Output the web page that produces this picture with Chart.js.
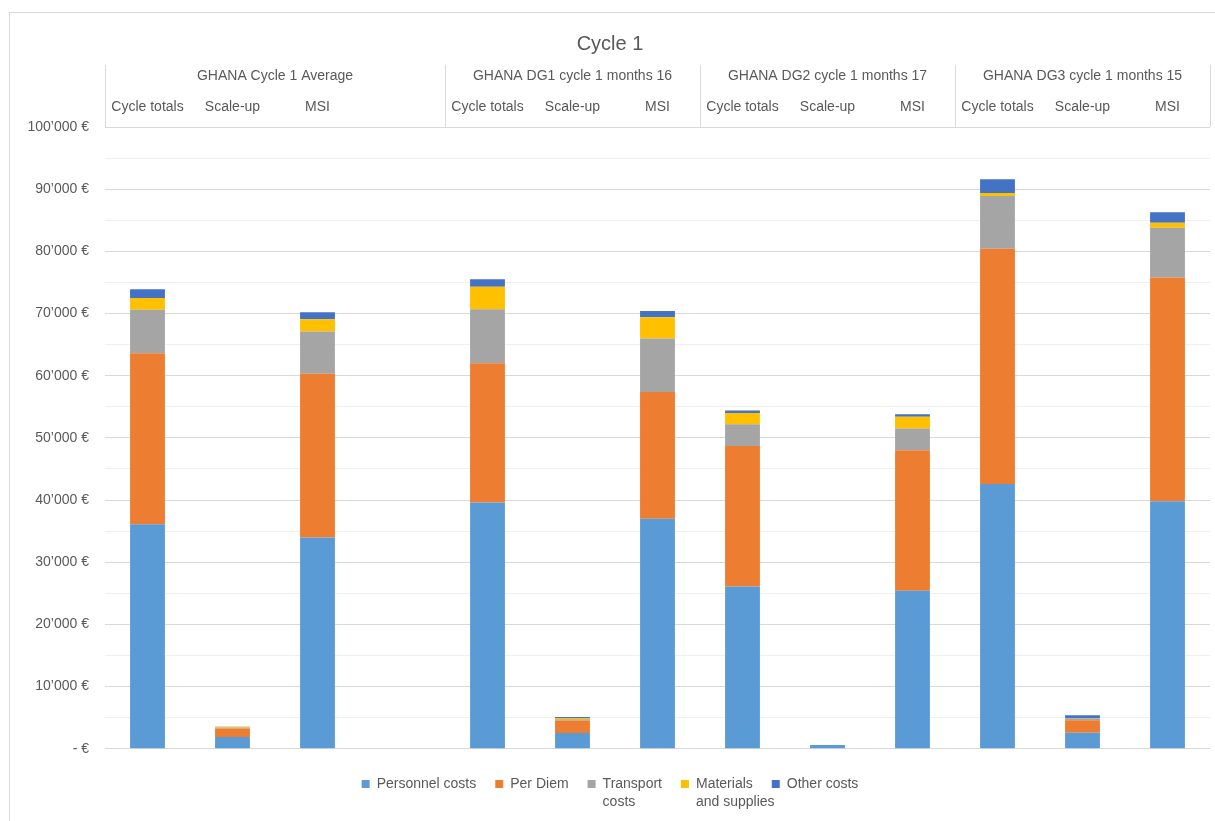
<!DOCTYPE html>
<html>
<head>
<meta charset="utf-8">
<script src="https://cdn.jsdelivr.net/npm/chart.js@4"></script>
<style>
  body { margin: 0; background: #fff; }
  #wrap { position: absolute; left: 9px; top: 12px; width: 1205px; height: 808px; border: 1px solid #d9d9d9; }
</style>
</head>
<body>
<div id="wrap"><canvas id="myChart"></canvas></div>
<script>
'use strict';

let categories = ['Cycle totals', 'Scale-up', 'MSI', '', 'Cycle totals', 'Scale-up', 'MSI', 'Cycle totals', 'Scale-up', 'MSI', 'Cycle totals', 'Scale-up', 'MSI'];
let groupNames = ['GHANA Cycle 1 Average', 'GHANA DG1 cycle 1 months 16', 'GHANA DG2 cycle 1 months 17', 'GHANA DG3 cycle 1 months 15'];
let groupSizes = [4, 3, 3, 3];

let personnel = [36100, 1900, 34000, null, 39600, 2550, 37000, 26100, 600, 25400, 42600, 2600, 39800];
let perDiem = [27500, 1350, 26300, null, 22400, 2000, 20400, 22600, 0, 22600, 37800, 2000, 36000];
let transport = [7000, 100, 6800, null, 8700, 200, 8600, 3500, 0, 3500, 8500, 300, 8000];
let materials = [1900, 100, 2000, null, 3600, 200, 3400, 1800, 0, 1900, 500, 50, 800];
let other = [1400, 100, 1100, null, 1200, 150, 1000, 400, 0, 400, 2200, 430, 1700];

let textColor = '#595959';
let fontName = '"Liberation Sans", Arial, sans-serif';

function euro(v) {
  if (v === 0) return '- €';
  return (v / 1000) + '\u2019000 €';
}

// draws the group row above the category labels
let groupHeader = {
  id: 'groupHeader',
  afterDraw(chart) {
    let ctx = chart.ctx;
    let x = chart.scales.x;
    let half = (x.getPixelForValue(1) - x.getPixelForValue(0)) / 2;
    let top = 52;
    let bottom = chart.chartArea.top;
    ctx.save();
    ctx.strokeStyle = '#d9d9d9';
    ctx.lineWidth = 1;
    ctx.beginPath();
    ctx.moveTo(x.left, bottom + 0.5);
    ctx.lineTo(x.right, bottom + 0.5);
    ctx.stroke();
    let start = 0;
    ctx.fillStyle = textColor;
    ctx.font = '14px ' + fontName;
    ctx.textAlign = 'center';
    ctx.textBaseline = 'middle';
    for (let i = 0; i <= groupSizes.length; i++) {
      let px = Math.round(x.getPixelForValue(start) - half) + 0.5;
      ctx.beginPath();
      ctx.moveTo(px, top);
      ctx.lineTo(px, bottom);
      ctx.stroke();
      if (i < groupSizes.length) {
        let end = start + groupSizes[i];
        let left = x.getPixelForValue(start) - half;
        let right = x.getPixelForValue(end - 1) + half;
        ctx.fillText(groupNames[i], (left + right) / 2, 63);
        start = end;
      }
    }

    // second line of the wrapped legend entries
    let legend = chart.legend;
    ctx.textAlign = 'left';
    legend.legendItems.forEach(function (it, i) {
      if (!it.sub) return;
      let box = legend.legendHitBoxes[i];
      ctx.fillText(it.sub, box.left + 15, box.top + box.height / 2 + 18);
    });
    ctx.restore();
  }
};

function makeSet(label, data, color) {
  return { label: label, data: data, backgroundColor: color, borderWidth: 0 };
}

let config = {
  type: 'bar',
  data: {
    labels: categories,
    datasets: [
      makeSet('Personnel costs', personnel, '#5B9BD5'),
      makeSet('Per Diem', perDiem, '#ED7D31'),
      makeSet('Transport\ncosts', transport, '#A5A5A5'),
      makeSet('Materials\nand supplies', materials, '#FFC000'),
      makeSet('Other costs', other, '#4472C4')
    ]
  },
  options: {
    responsive: true,
    maintainAspectRatio: false,
    animation: false,
    layout: { padding: { left: 0, right: 5, top: 0, bottom: 20 } },
    datasets: { bar: { barPercentage: 0.41, categoryPercentage: 1 } },
    plugins: {
      title: {
        display: true,
        text: 'Cycle 1',
        color: textColor,
        font: { family: fontName, size: 20, weight: 'normal' },
        padding: { top: 19, bottom: 9 }
      },
      legend: {
        position: 'bottom',
        title: { display: true, text: '', font: { size: 1 }, padding: { top: 8, bottom: 0 } },
        labels: {
          color: textColor,
          font: { family: fontName, size: 14 },
          boxWidth: 8,
          boxHeight: 8,
          padding: 19,
          generateLabels(chart) {
            let items = Chart.defaults.plugins.legend.labels.generateLabels(chart);
            items.forEach(function (it) {
              let parts = it.text.split('\n');
              it.text = parts[0];
              it.sub = parts[1];
            });
            return items;
          }
        }
      },
      tooltip: { enabled: false }
    },
    scales: {
      x: {
        position: 'top',
        stacked: true,
        grid: { display: false, drawTicks: false },
        border: { display: false },
        ticks: { color: textColor, font: { family: fontName, size: 14 }, padding: 11, maxRotation: 0, autoSkip: false },
        afterFit(scale) { scale.height = 62; }
      },
      y: {
        stacked: true,
        min: 0,
        max: 100000,
        border: { display: false },
        grid: {
          drawTicks: false,
          color(c) { return c.tick.value % 10000 === 0 ? '#d9d9d9' : '#efefef'; }
        },
        ticks: {
          stepSize: 5000,
          color: textColor,
          font: { family: fontName, size: 14 },
          padding: 16,
          callback(v) { return v % 10000 === 0 ? euro(v) : ''; }
        },
        afterFit(scale) { scale.width = 95; }
      }
    }
  },
  plugins: [groupHeader]
};

let myChart = new Chart(document.getElementById('myChart'), config);
</script>
</body>
</html>
